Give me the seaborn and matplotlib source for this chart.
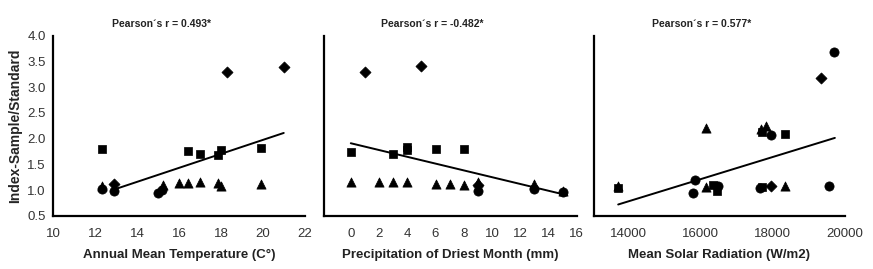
import matplotlib
matplotlib.use("Agg")
import matplotlib.pyplot as plt
import seaborn as sns
import pandas as pd

# ---- data ----
# panel 1: annual mean temperature
temp_x = [12.3, 12.3, 12.3, 12.9, 12.9, 15.0, 15.2, 15.25, 16.0, 16.45, 16.45,
          17.0, 17.0, 17.85, 17.85, 18.0, 18.0, 18.3, 21.0, 19.9, 19.9]
temp_y = [1.80, 1.08, 1.02, 1.11, 0.98, 0.95, 1.01, 1.10, 1.14, 1.13, 1.76,
          1.71, 1.15, 1.69, 1.13, 1.78, 1.08, 3.29, 3.40, 1.82, 1.11]
temp_shape = ["square", "triangle", "circle", "diamond", "circle", "circle", "circle",
              "triangle", "triangle", "triangle", "square", "square", "triangle",
              "square", "triangle", "square", "triangle", "diamond", "diamond",
              "square", "triangle"]
temp_trend_x = [12.9, 21.0]
temp_trend_y = [1.01, 2.11]

# panel 2: precipitation of driest month
prec_x = [1, 5, 0, 3, 4, 4, 6, 8, 0, 2, 3, 4, 6, 7, 8, 9, 9, 9, 13, 13, 15, 15]
prec_y = [3.29, 3.42, 1.73, 1.71, 1.84, 1.77, 1.80, 1.79, 1.16, 1.15, 1.15, 1.15,
          1.11, 1.12, 1.10, 1.15, 1.10, 0.99, 1.11, 1.02, 0.98, 0.97]
prec_shape = ["diamond", "diamond", "square", "square", "square", "square", "square",
              "square", "triangle", "triangle", "triangle", "triangle", "triangle",
              "triangle", "triangle", "triangle", "diamond", "circle", "triangle",
              "circle", "triangle", "circle"]
prec_trend_x = [0, 15]
prec_trend_y = [1.91, 0.92]

# panel 3: mean solar radiation
rad_x = [13720, 13720, 15780, 15850, 16160, 16160, 16350, 16470, 16490, 17660,
         17710, 17960, 18350, 17670, 17820, 17700, 17960, 18350, 19330, 19690, 19550]
rad_y = [1.11, 1.15, 1.00, 1.29, 1.14, 2.46, 1.18, 1.05, 1.15, 1.11,
         1.14, 1.17, 1.17, 2.43, 2.49, 2.37, 2.30, 2.32, 3.56, 4.13, 1.15]
rad_shape = ["square", "triangle", "circle", "circle", "triangle", "triangle", "square",
             "square", "circle", "circle", "square", "diamond", "triangle", "triangle",
             "triangle", "square", "circle", "square", "diamond", "circle", "circle"]
rad_trend_x = [13720, 19720]
rad_trend_y = [0.75, 2.23]

titles = ["Pearson\u00b4s r = 0.493*", "Pearson\u00b4s r = -0.482*", "Pearson\u00b4s r = 0.577*"]
xlabels = ["Annual Mean Temperature (C\u00b0)", "Precipitation of Driest Month (mm)",
           "Mean Solar Radiation (W/m2)"]

sns.set_style("white")
plt.rcParams["font.family"] = ["Liberation Sans", "DejaVu Sans"]

markers = {"square": "s", "triangle": "^", "circle": "o", "diamond": "D"}
sizes = {"square": 32, "triangle": 44, "circle": 44, "diamond": 32}

fig = plt.figure(figsize=(8.73, 2.69), dpi=100)
boxes = [[0.0611, 0.198, 0.2879, 0.669],
         [0.3711, 0.198, 0.2895, 0.669],
         [0.6804, 0.198, 0.2875, 0.669]]
panels = [(temp_x, temp_y, temp_shape, temp_trend_x, temp_trend_y),
          (prec_x, prec_y, prec_shape, prec_trend_x, prec_trend_y),
          (rad_x, rad_y, rad_shape, rad_trend_x, rad_trend_y)]

for i, (xs, ys, shp, tx, ty) in enumerate(panels):
    ax = fig.add_axes(boxes[i])
    df = pd.DataFrame({"x": xs, "y": ys, "shape": shp})
    for name, sub in df.groupby("shape"):
        sns.scatterplot(data=sub, x="x", y="y", marker=markers[name], s=sizes[name],
                        color="black", edgecolor="black", linewidth=0.5, ax=ax,
                        legend=False, zorder=3)
    sns.lineplot(x=tx, y=ty, color="black", linewidth=1.4, ax=ax, zorder=2)

    if i == 0:
        ax.set_xlim(10, 22)
        ax.set_xticks(range(10, 23, 2))
    elif i == 1:
        ax.set_xlim(-1.9, 16)
        ax.set_xticks(range(0, 17, 2))
    else:
        ax.set_xlim(13050, 20000)
        ax.set_xticks([14000, 16000, 18000, 20000])

    if i == 2:
        ax.set_ylim(0.5, 4.5)
        ax.set_yticks([0.5 + 0.5 * k for k in range(9)])
    else:
        ax.set_ylim(0.5, 4.0)
        ax.set_yticks([0.5 + 0.5 * k for k in range(8)])

    if i == 0:
        ax.set_yticklabels([f"{0.5 + 0.5 * k:.1f}" for k in range(8)])
        ax.set_ylabel("Index-Sample/Standard", fontsize=10, fontweight="bold", labelpad=4)
    else:
        ax.set_yticklabels([])
        ax.set_ylabel("")

    ax.set_xlabel(xlabels[i], fontsize=9.5, fontweight="bold", labelpad=7, color="#222222")
    ax.text(0.43, 1.035, titles[i], transform=ax.transAxes, ha="center", va="bottom",
            fontsize=7.5, fontweight="bold", color="#222222")

    for side in ["top", "right"]:
        ax.spines[side].set_visible(False)
    for side in ["left", "bottom"]:
        ax.spines[side].set_color("black")
        ax.spines[side].set_linewidth(1.6)
    ax.tick_params(axis="both", direction="out", length=2.5, width=0.8,
                   labelsize=9.5, colors="#333333", pad=3)
    ax.tick_params(axis="x", pad=6)
    ax.grid(False)

fig.savefig("out.png", dpi=100)
